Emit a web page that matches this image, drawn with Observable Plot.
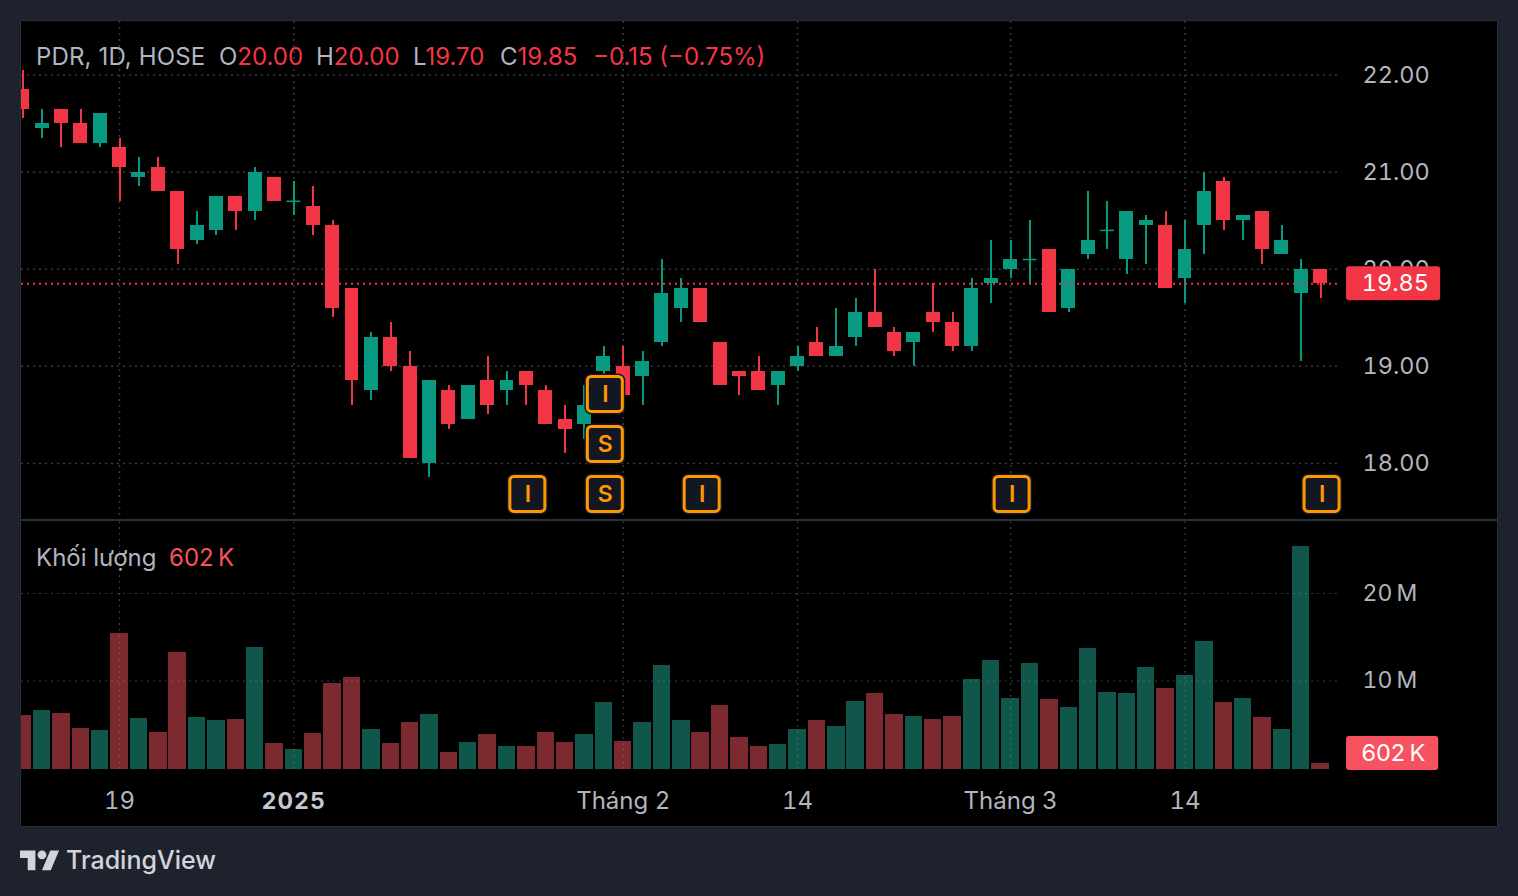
<!DOCTYPE html>
<html>
<head>
<meta charset="utf-8">
<script src="https://cdn.jsdelivr.net/npm/d3@7"></script>
<script src="https://cdn.jsdelivr.net/npm/@observablehq/plot@0.6"></script>
<style>
  html,body{margin:0;padding:0;background:#1e222d;width:1518px;height:896px;overflow:hidden;font-family:Inter,"Noto Sans",sans-serif;}
  #frame{position:absolute;left:20px;top:20px;width:1476px;height:805px;background:#000;border:1px solid #2a2e39;}
  #sep{position:absolute;left:21px;top:519px;width:1476px;height:2px;background:#2a2e39;}
  #price,#volume{position:absolute;left:21px;}
  #price{top:21px;} #volume{top:521px;}
  svg{display:block;}
  .t{position:absolute;font-size:24px;line-height:28px;white-space:nowrap;color:#b2b5be;}
  .r{color:#f23645;} .v{color:#f7525f;}
  #logo{position:absolute;left:20px;top:845.6px;}
</style>
</head>
<body>
<div id="frame"></div>
<div id="price"></div>
<div id="volume"></div>
<div id="sep"></div>
<div class="t" style="left:36px;top:43px;letter-spacing:.15px">PDR, 1D, HOSE</div>
<div class="t" style="left:219px;top:43px">O<span class="r">20.00</span></div>
<div class="t" style="left:316px;top:43px">H<span class="r">20.00</span></div>
<div class="t" style="left:413px;top:43px">L<span class="r">19.70</span></div>
<div class="t" style="left:500px;top:43px">C<span class="r">19.85</span></div>
<div class="t r" style="left:593px;top:43px">−0.15 (−0.75%)</div>
<div class="t" style="left:36px;top:544px">Khối lượng</div>
<div class="t v" style="left:169px;top:544px">602&#8239;K</div>
<svg id="logo" width="39.6" height="30.8" viewBox="0 0 36 28"><path fill="#d1d4dc" d="M14 22H7V11H0V4h14v18zM28 22h-8l7.5-18h8L28 22z"/><circle fill="#d1d4dc" cx="20" cy="8" r="4"/></svg>
<div class="t" style="left:66px;top:846px;font-size:25px;color:#d1d4dc;font-weight:500">TradingView</div>
<script>
const opens  = [21.85,21.45,21.65,21.5,21.3,21.25,20.95,21.05,20.8,20.3,20.4,20.75,20.6,20.95,20.7,20.65,20.45,19.8,18.75,19.3,19.0,18.0,18.75,18.45,18.85,18.75,18.95,18.75,18.45,18.4,18.95,19.0,18.9,19.25,19.6,19.8,19.25,18.95,18.95,18.8,19.0,19.25,19.1,19.3,19.55,19.35,19.25,19.55,19.45,19.2,19.85,20.0,20.1,20.2,19.6,20.15,20.4,20.1,20.45,20.45,19.9,20.45,20.9,20.5,20.6,20.15,19.75,20.0];
const highs  = [22.05,21.65,21.65,21.65,21.6,21.35,21.15,21.15,20.8,20.6,20.75,20.75,21.05,20.95,20.9,20.85,20.5,19.8,19.35,19.45,19.15,18.85,18.8,18.8,19.1,18.95,18.95,18.8,18.6,18.8,19.2,19.2,19.15,20.1,19.9,19.8,19.25,18.95,19.1,18.95,19.2,19.4,19.6,19.7,20.0,19.4,19.35,19.85,19.55,19.9,20.3,20.3,20.5,20.2,20.0,20.8,20.7,20.6,20.55,20.6,20.5,21.0,20.95,20.55,20.6,20.45,20.1,20.0];
const lows   = [21.55,21.35,21.25,21.3,21.25,20.7,20.85,20.8,20.05,20.25,20.35,20.4,20.5,20.7,20.55,20.35,19.5,18.6,18.65,18.95,18.05,17.85,18.35,18.45,18.5,18.6,18.6,18.4,18.1,18.25,18.9,18.7,18.6,19.2,19.45,19.45,18.8,18.7,18.75,18.6,18.95,19.1,19.1,19.2,19.4,19.1,19.0,19.35,19.15,19.15,19.65,19.9,19.85,19.55,19.55,20.1,20.2,19.95,20.05,19.8,19.65,20.15,20.4,20.3,20.05,20.15,19.05,19.7];
const closes = [21.65,21.5,21.5,21.3,21.6,21.05,21.0,20.8,20.2,20.45,20.75,20.6,21.0,20.7,20.7,20.45,19.6,18.85,19.3,19.0,18.05,18.85,18.4,18.8,18.6,18.85,18.8,18.4,18.35,18.6,19.1,18.7,19.05,19.75,19.8,19.45,18.8,18.9,18.75,18.95,19.1,19.1,19.2,19.55,19.4,19.15,19.35,19.45,19.2,19.8,19.9,20.1,20.1,19.55,20.0,20.3,20.4,20.6,20.5,19.8,20.2,20.8,20.5,20.55,20.2,20.3,20.0,19.85];
const volumes= [6.05,6.65,6.3,4.55,4.35,15.4,5.7,4.1,13.25,5.85,5.5,5.6,13.8,2.85,2.15,4.0,9.75,10.45,4.45,2.85,5.25,6.15,1.8,2.95,3.85,2.5,2.5,4.1,2.95,3.85,7.55,3.05,5.25,11.75,5.5,4.1,7.2,3.55,2.5,2.75,4.45,5.5,4.8,7.65,8.6,6.15,5.95,5.6,5.95,10.15,12.35,8.0,12.0,7.9,7.0,13.7,8.7,8.6,11.5,9.15,10.6,14.5,7.55,8.0,5.85,4.45,25.35,0.602];
const priceTicks = [22,21,20,19,18];
const volumeTicks = [10,20];
const timeIdx = [5,14,31,40,51,60];
const timeLabels = ["19","2025","Tháng 2","14","Tháng 3","14"];
const markIdx = [26,30,30,30,35,51,67];
const markLevel = [17.68,17.68,18.195,18.71,17.68,17.68,17.68];
const markText = ["I","S","S","I","I","I","I"];
const lastPrice = 19.85;
const lastVolume = 0.602;

const UP="#089981", DOWN="#f23645", VUP="#22ab94", VDOWN="#f7525f";
const GRID="#363a45", TXT="#b2b5be", FONT='Inter,"Noto Sans",sans-serif';
const candles = opens.map((o,i)=>({i,o,h:highs[i],l:lows[i],c:closes[i],v:volumes[i],color:closes[i]>=o?UP:DOWN,vcolor:closes[i]>=o?VUP:VDOWN}));
const marks = markIdx.map((i,k)=>({i,level:markLevel[k],text:markText[k]}));
const times = timeIdx.map((i,k)=>({i,text:timeLabels[k]}));
const xDomain=[-0.062,68.08];
const base={width:1476,marginLeft:0,marginRight:156,marginTop:0,style:{background:"transparent",fontFamily:FONT}};
const HW=0.36, MW=0.903, MH=0.18;

const price = Plot.plot({...base,height:499,marginBottom:0,
  x:{domain:xDomain,axis:null},
  y:{domain:[17.412,22.552],axis:null},
  marks:[
    Plot.ruleY(priceTicks,{stroke:GRID,strokeWidth:1.5,strokeDasharray:"2 4"}),
    Plot.ruleX(timeIdx,{stroke:GRID,strokeWidth:1.5,strokeDasharray:"2 4"}),
    Plot.ruleX(candles,{x:"i",y1:"l",y2:"h",stroke:"color",strokeWidth:2,shapeRendering:"crispEdges"}),
    Plot.rect(candles,{x1:d=>d.i-HW,x2:d=>d.i+HW,y1:"o",y2:"c",fill:"color",inset:0,shapeRendering:"crispEdges"}),
    Plot.ruleY(candles.filter(d=>d.o===d.c),{y:"c",x1:d=>d.i-HW,x2:d=>d.i+HW,stroke:"color",strokeWidth:1.5}),
    Plot.ruleY([lastPrice],{stroke:DOWN,strokeWidth:2,strokeDasharray:"2 4"}),
    Plot.axisY(priceTicks,{anchor:"right",tickSize:0,tickPadding:21,tickFormat:d=>d.toFixed(2),fontSize:23.5,color:TXT,label:null}),
    Plot.rect([lastPrice],{x1:68.34,x2:73.2,y1:d=>d-0.175,y2:d=>d+0.175,fill:DOWN,rx:3}),
    Plot.text([lastPrice],{x:72.6,y:d=>d,text:d=>d.toFixed(2),textAnchor:"end",fill:"#fff",fontSize:23.5,fontVariant:"tabular-nums"}),
    Plot.rect(marks,{x1:d=>d.i-MW,x2:d=>d.i+MW,y1:d=>d.level-MH,y2:d=>d.level+MH,dx:1.5,fill:"#131722",stroke:"#131722",strokeWidth:6,rx:4}),
    Plot.rect(marks,{x1:d=>d.i-MW,x2:d=>d.i+MW,y1:d=>d.level-MH,y2:d=>d.level+MH,dx:1.5,fill:"#131722",stroke:"#ff9800",strokeWidth:3,rx:4}),
    Plot.text(marks,{x:"i",y:"level",text:"text",dx:1.5,fill:"#ff9800",fontSize:23,fontWeight:600})
  ]});
document.getElementById("price").append(price);

const volume = Plot.plot({...base,height:304,marginBottom:56,
  x:{domain:xDomain,axis:null},
  y:{domain:[-0.114,28.23],axis:null},
  marks:[
    Plot.ruleY(volumeTicks,{stroke:GRID,strokeWidth:1.2,strokeDasharray:"2 4"}),
    Plot.ruleX(timeIdx,{stroke:GRID,strokeWidth:1.2,strokeDasharray:"2 4"}),
    Plot.rect(candles,{x1:d=>d.i-0.45,x2:d=>d.i+0.45,y1:-0.114,y2:"v",fill:"vcolor",fillOpacity:0.5,shapeRendering:"crispEdges"}),
    Plot.axisY(volumeTicks,{anchor:"right",tickSize:0,tickPadding:21,tickFormat:d=>d+"\u202fM",fontSize:23,color:TXT,label:null}),
    Plot.text(times.filter(d=>d.text!=="2025"),{x:"i",text:"text",frameAnchor:"bottom",dy:32,lineAnchor:"middle",fill:TXT,fontSize:24,fontVariant:"tabular-nums"}),
    Plot.text(times.filter(d=>d.text==="2025"),{x:"i",text:"text",frameAnchor:"bottom",dy:32,lineAnchor:"middle",fill:"#c4c7d0",fontSize:23,fontWeight:700}),
    Plot.rect([lastVolume],{x1:68.34,x2:73.1,y1:d=>d+1.11-1.94,y2:d=>d+1.11+1.94,fill:VDOWN,rx:3}),
    Plot.text([lastVolume],{x:72.4,y:d=>d+1.11,text:()=>"602\u202fK",textAnchor:"end",fill:"#fff",fontSize:23.5})
  ]});
document.getElementById("volume").append(volume);
volume.querySelectorAll("text").forEach(t=>{ if(t.textContent==="2025") t.style.letterSpacing="1.3px"; });
</script>
</body>
</html>
